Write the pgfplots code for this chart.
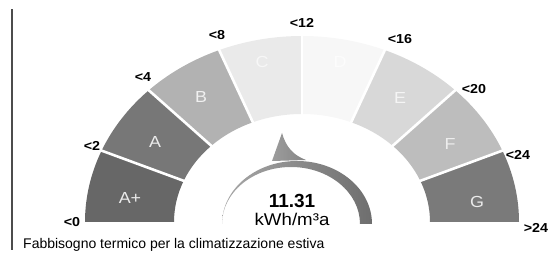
\documentclass[border=0pt]{standalone}
\usepackage{pgfplots}
\pgfplotsset{compat=1.18}
\usepackage{fontspec}
\setmainfont{Liberation Sans}
\definecolor{cAp}{HTML}{676767}
\definecolor{cA}{HTML}{777777}
\definecolor{cB}{HTML}{B2B2B2}
\definecolor{cC}{HTML}{EAEAEA}
\definecolor{cD}{HTML}{F7F7F7}
\definecolor{cE}{HTML}{D8D8D8}
\definecolor{cF}{HTML}{BDBDBD}
\definecolor{cG}{HTML}{7A7A7A}
\definecolor{cNeedleL}{HTML}{A8A8A8}
\definecolor{cNeedleR}{HTML}{6E6E6E}
\newcommand\seg[3]{\fill[#3] ({302+217*cos(#1)},{34+186*sin(#1)}) arc[start angle=#1,end angle=#2,x radius=217pt,y radius=186pt] -- ({302+128*cos(#2)},{34+108*sin(#2)}) arc[start angle=#2,end angle=#1,x radius=128pt,y radius=108pt] -- cycle;}
\newcommand\gap[1]{\draw[white,line width=2.6pt] ({302+124*cos(#1)},{34+104*sin(#1)}) -- ({302+222*cos(#1)},{34+191*sin(#1)});}
\newcommand\thr[1]{\fontsize{13}{13}\selectfont\bfseries\scalebox{1.1}[1]{#1}}
\newcommand\cls[1]{\fontsize{16}{16}\selectfont\scalebox{1.12}[1]{#1}}
\begin{document}
\begin{tikzpicture}
\begin{axis}[hide axis, scale only axis, width=554pt, height=256pt,
  xmin=0, xmax=554, ymin=0, ymax=256, clip=false]
\path (0,0) rectangle (554,256);
% segments (8 equal classes)
\seg{180}{157.5}{cAp}
\seg{157.5}{135}{cA}
\seg{135}{112.5}{cB}
\seg{112.5}{90}{cC}
\seg{90}{67.5}{cD}
\seg{67.5}{45}{cE}
\seg{45}{22.5}{cF}
\seg{22.5}{0}{cG}
\gap{157.5}\gap{135}\gap{112.5}\gap{90}\gap{67.5}\gap{45}\gap{22.5}
% class letters
\node[text=white!92!black] at (130,58) {\cls{A+}};
\node[text=white!92!black] at (155,114) {\cls{A}};
\node[text=white!94!black] at (201,159) {\cls{B}};
\node[text=white!97!black] at (262,194) {\cls{C}};
\node[text=white!99!black] at (340,194) {\cls{D}};
\node[text=white!96!black] at (400,158) {\cls{E}};
\node[text=white!93!black] at (450,112) {\cls{F}};
\node[text=white!92!black] at (477,54) {\cls{G}};
% threshold labels
\node at (72,34) {\thr{<0}};
\node at (92,110) {\thr{<2}};
\node at (143,179) {\thr{<4}};
\node at (217,221) {\thr{<8}};
\node at (302,233) {\thr{<12}};
\node at (400,217) {\thr{<16}};
\node at (474,167) {\thr{<20}};
\node at (518,101) {\thr{<24}};
\node at (536,28) {\thr{>24}};
% indicator
\shade[left color=cNeedleL, right color=cNeedleR] (222,32) arc[start angle=180,end angle=0,x radius=75pt,y radius=63pt] -- (360,32) arc[start angle=0,end angle=180,x radius=69pt,y radius=57pt] -- cycle;
\shade[left color=cNeedleL!80!cNeedleR, right color=cNeedleL!40!cNeedleR] (272,95) -- (282,123) .. controls (286,109) and (293,101) .. (306,96) -- cycle;
\node at (292,55) {\fontsize{19}{19}\selectfont\bfseries 11.31};
\node at (292,37) {\fontsize{17}{17}\selectfont\scalebox{1.1}[1]{kWh/m³a}};
% caption and left rule
\draw[black!70, line width=1.6pt] (12,6) -- (12,247);
\node[anchor=west, inner sep=0pt] at (23,11) {\fontsize{14}{14}\selectfont Fabbisogno termico per la climatizzazione estiva};
\end{axis}
\end{tikzpicture}
\end{document}
